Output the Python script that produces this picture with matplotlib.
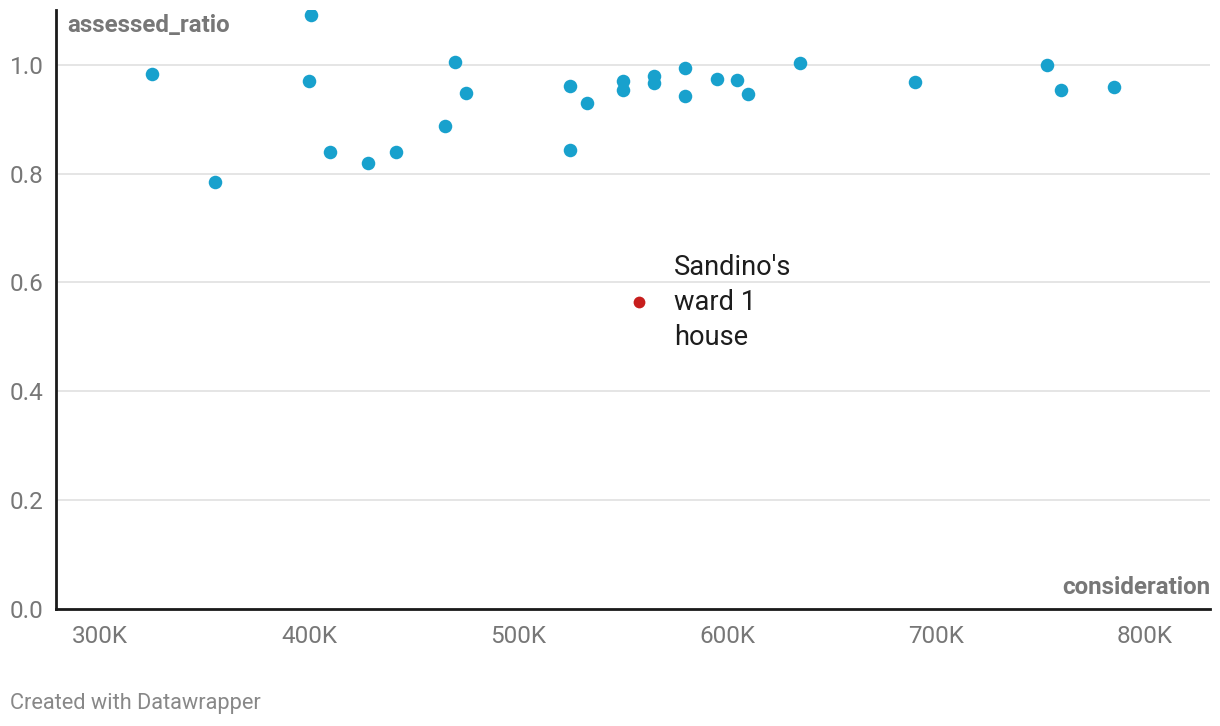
import matplotlib.pyplot as plt

plt.rcParams['font.family'] = ['Roboto', 'DejaVu Sans']

# sale price (consideration, thousands) and assessed / sale ratio
consideration = [325, 355, 401, 400, 410, 428, 441.5, 465, 470, 475,
                 525, 525, 533, 550, 550, 565, 565, 580, 580, 595,
                 605, 610, 635, 690, 753, 760, 785]
assessed_ratio = [0.984, 0.785, 1.092, 0.971, 0.839, 0.819, 0.839, 0.887, 1.006, 0.948,
                  0.961, 0.844, 0.930, 0.971, 0.954, 0.980, 0.966, 0.994, 0.942, 0.974,
                  0.972, 0.946, 1.004, 0.968, 1.000, 0.953, 0.960]

# highlighted house
sandino_x = [558]
sandino_y = [0.563]
sandino_label = "Sandino's\nward 1\nhouse"

x_ticks = [300, 400, 500, 600, 700, 800]
x_tick_labels = ["300K", "400K", "500K", "600K", "700K", "800K"]
y_ticks = [0.0, 0.2, 0.4, 0.6, 0.8, 1.0]
y_tick_labels = ["0.0", "0.2", "0.4", "0.6", "0.8", "1.0"]

fig = plt.figure(figsize=(12.2, 7.26), dpi=100)
ax = fig.add_axes([56 / 1220, 1 - 608.5 / 726, (1210 - 56) / 1220, (608.5 - 10) / 726])

ax.scatter(consideration, assessed_ratio, s=95, color='#18a1cd', linewidths=0, zorder=3)
ax.scatter(sandino_x, sandino_y, s=72, color='#c71e1d', linewidths=0, zorder=3)
ax.annotate(sandino_label, (sandino_x[0], sandino_y[0]), xytext=(35, 0),
            textcoords='offset pixels', va='center', ha='left',
            fontsize=19.6, color='#1d1d1d', linespacing=1.36)

ax.set_xlim(278.9, 831.1)
ax.set_ylim(0, 1.101)

ax.set_xticks(x_ticks)
ax.set_xticklabels(x_tick_labels)
ax.set_yticks(y_ticks)
ax.set_yticklabels(y_tick_labels)
ax.tick_params(axis='both', length=0, labelsize=17.5, labelcolor='#777777')
ax.tick_params(axis='x', pad=12)
ax.tick_params(axis='y', pad=9)

ax.grid(axis='y', color='#e3e3e3', linewidth=1.3)
ax.set_axisbelow(True)

for side in ['top', 'right']:
    ax.spines[side].set_visible(False)
for side in ['left', 'bottom']:
    ax.spines[side].set_color('#1a1a1a')
    ax.spines[side].set_linewidth(2)
    ax.spines[side].set_zorder(4)

fig.text(67 / 1220, 1 - 32 / 726, 'assessed_ratio',
         ha='left', va='baseline', fontsize=17.4, fontweight='bold', color='#777777')
fig.text(1210 / 1220, 1 - 594 / 726, 'consideration',
         ha='right', va='baseline', fontsize=17.4, fontweight='bold', color='#777777')

fig.text(10 / 1220, 1 - 709 / 726, 'Created with Datawrapper',
         ha='left', va='baseline', fontsize=15.7, color='#888888')

fig.savefig('out.png', dpi=100)
